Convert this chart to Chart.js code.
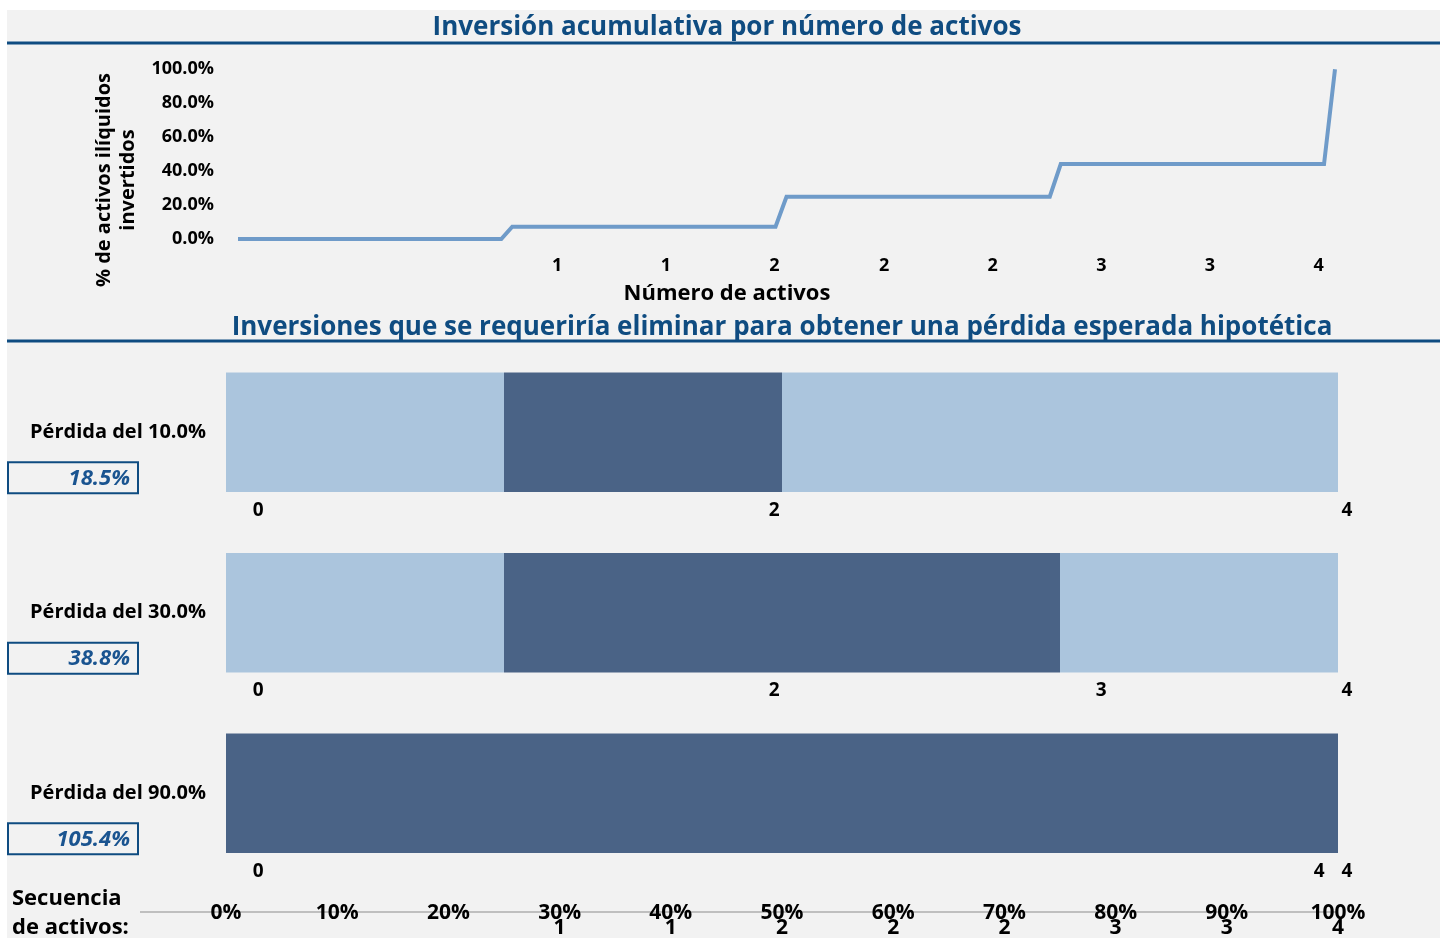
<!DOCTYPE html>
<html lang="es">
<head>
<meta charset="utf-8">
<title>Inversión acumulativa por número de activos</title>
<script src="https://cdn.jsdelivr.net/npm/chart.js@4.4.1/dist/chart.umd.min.js"></script>
<style>
  html, body { margin: 0; background: #fff; overflow: hidden; }
  #panel { position: absolute; left: 7px; top: 10px; width: 1433px; height: 928px; background: #f2f2f2; overflow: hidden; }
  canvas { position: absolute; left: 0; }
  #cumChart { top: 0; }
  #lossChart { top: 300px; }
</style>
</head>
<body>
<div id="panel">
  <canvas id="cumChart" width="1440" height="300"></canvas>
  <canvas id="lossChart" width="1440" height="628"></canvas>
</div>
<script>
const FONT = '"Open Sans", Lato, sans-serif';
const BLUE = '#0f4c81';
const LINE_BLUE = '#6f9bc9';
const LIGHT = '#abc5dd';
const DARK = '#4a6386';

// cumulative investment (top chart)
const seqPct = [0, 24, 25, 49, 50, 74, 75, 99, 100];
const cumInvested = [0, 0, 7.2, 7.2, 24.9, 24.9, 44.1, 44.1, 100];
const assetTickAt = [29.1, 39, 48.9, 58.9, 68.8, 78.7, 88.6, 98.5];
const assetTickLabels = ['1', '1', '2', '2', '2', '3', '3', '4'];

// investments to remove per hypothetical loss (bottom chart)
const lossLabels = ['Pérdida del 10.0%', 'Pérdida del 30.0%', 'Pérdida del 90.0%'];
const requiredPct = ['18.5%', '38.8%', '105.4%'];
const keptBefore = [25, 25, 0];
const removed = [25, 50, 100];
const keptAfter = [50, 25, 0];
const markText = [['0', '2', '4'], ['0', '2', '3', '4'], ['0', '4', '4']];
const markAt = [[2.9, 49.3, 100.8], [2.9, 49.3, 78.7, 100.8], [2.9, 98.3, 100.8]];
const seqTickLabels = ['', '', '', '1', '1', '2', '2', '2', '3', '3', '4'];

Chart.defaults.font.family = FONT;
Chart.defaults.color = '#000';
Chart.defaults.animation = false;

function hline(ctx, y, x0, x1, color, w) {
  ctx.strokeStyle = color;
  ctx.lineWidth = w;
  ctx.beginPath();
  ctx.moveTo(x0, y);
  ctx.lineTo(x1, y);
  ctx.stroke();
}

const cumDecor = {
  id: 'cumDecor',
  beforeDraw(chart) {
    const ctx = chart.ctx;
    ctx.save();
    hline(ctx, 33, 0, chart.width, BLUE, 3);
    // y axis title, two lines, rotated
    ctx.translate(97, 170);
    ctx.rotate(-Math.PI / 2);
    ctx.font = 'bold 20px ' + FONT;
    ctx.fillStyle = '#000';
    ctx.textAlign = 'center';
    ctx.textBaseline = 'middle';
    ctx.fillText('% de activos ilíquidos', 0, 0);
    ctx.fillText('invertidos', 0, 24);
    ctx.restore();
  }
};

const lossDecor = {
  id: 'lossDecor',
  beforeDraw(chart) {
    const ctx = chart.ctx;
    const x = chart.scales.x;
    ctx.save();
    hline(ctx, 31, 0, chart.width, BLUE, 3);
    hline(ctx, 602, 133, x.getPixelForValue(100), '#bfbfbf', 2);
    ctx.restore();
  },
  afterDraw(chart) {
    const ctx = chart.ctx;
    const {x, y} = chart.scales;
    ctx.save();
    ctx.textBaseline = 'middle';
    lossLabels.forEach((_, i) => {
      const cy = y.getPixelForValue(i);
      ctx.strokeStyle = BLUE;
      ctx.lineWidth = 2;
      ctx.strokeRect(1, cy + 30, 130, 31);
      ctx.font = 'italic bold 22px ' + FONT;
      ctx.fillStyle = '#1a5490';
      ctx.textAlign = 'right';
      ctx.fillText(requiredPct[i], 123, cy + 46);
      ctx.font = 'bold 19px ' + FONT;
      ctx.fillStyle = '#000';
      ctx.textAlign = 'center';
      markText[i].forEach((t, j) => ctx.fillText(t, x.getPixelForValue(markAt[i][j]), cy + 78));
    });
    ctx.font = 'bold 22px ' + FONT;
    ctx.textAlign = 'left';
    ctx.fillText('Secuencia', 5, 589);
    ctx.fillText('de activos:', 5, 618);
    ctx.restore();
  }
};

new Chart(document.getElementById('cumChart'), {
  type: 'line',
  data: {
    datasets: [{
      data: seqPct.map((v, i) => ({x: v, y: cumInvested[i]})),
      borderColor: LINE_BLUE,
      borderWidth: 4,
      pointRadius: 0,
      tension: 0,
      fill: false,
      clip: false
    }]
  },
  options: {
    responsive: false,
    layout: {padding: {left: 112, right: 112, top: 0, bottom: 0}},
    plugins: {
      legend: {display: false},
      tooltip: {enabled: false},
      title: {
        display: true,
        text: 'Inversión acumulativa por número de activos',
        color: BLUE,
        font: {size: 26, weight: 'bold', lineHeight: 1.2},
        padding: {top: 2, bottom: 26}
      },
      subtitle: {
        display: true,
        position: 'bottom',
        text: 'Número de activos',
        color: '#000',
        font: {size: 22, weight: 'bold', lineHeight: 1.2},
        padding: {top: 0, bottom: 3}
      }
    },
    scales: {
      x: {
        type: 'linear',
        min: 0,
        max: 100,
        afterBuildTicks: s => { s.ticks = assetTickAt.map(v => ({value: v})); },
        afterFit: s => { s.height = 41.6; },
        ticks: {
          callback: (v, i) => assetTickLabels[i],
          font: {size: 18, weight: 'bold'},
          padding: 16,
          maxRotation: 0,
          autoSkip: false
        },
        grid: {display: false, drawTicks: false},
        border: {display: false}
      },
      y: {
        min: 0,
        max: 100,
        afterFit: s => { s.width = 119; },
        ticks: {
          stepSize: 20,
          callback: v => v.toFixed(1) + '%',
          font: {size: 18, weight: 'bold'},
          padding: 24
        },
        grid: {display: false, drawTicks: false},
        border: {display: false}
      }
    }
  },
  plugins: [cumDecor]
});

new Chart(document.getElementById('lossChart'), {
  type: 'bar',
  data: {
    labels: lossLabels,
    datasets: [
      {data: keptBefore, backgroundColor: LIGHT},
      {data: removed, backgroundColor: DARK},
      {data: keptAfter, backgroundColor: LIGHT}
    ]
  },
  options: {
    responsive: false,
    indexAxis: 'y',
    layout: {padding: {left: 0, right: 109, top: 0, bottom: 0}},
    datasets: {bar: {categoryPercentage: 1, barPercentage: 0.663, borderWidth: 0}},
    plugins: {
      legend: {display: false},
      tooltip: {enabled: false},
      title: {
        display: true,
        fullSize: false,
        text: 'Inversiones que se requeriría eliminar para obtener una pérdida esperada hipotética',
        color: BLUE,
        font: {size: 26, weight: 'bold', lineHeight: 1},
        padding: {top: 3, bottom: 1.5}
      }
    },
    scales: {
      x: {
        stacked: true,
        min: 0,
        max: 100,
        afterFit: s => { s.height = 54.5; },
        ticks: {
          stepSize: 10,
          callback: (v, i) => [v + '%', seqTickLabels[i]],
          font: {size: 21, weight: 'bold', lineHeight: 0.7},
          padding: 22,
          maxRotation: 0,
          autoSkip: false
        },
        grid: {display: false, drawTicks: false},
        border: {display: false}
      },
      y: {
        stacked: true,
        afterFit: s => { s.width = 219; },
        ticks: {font: {size: 20, weight: 'bold'}, padding: 20},
        grid: {display: false, drawTicks: false},
        border: {display: false}
      }
    }
  },
  plugins: [lossDecor]
});
</script>
</body>
</html>
